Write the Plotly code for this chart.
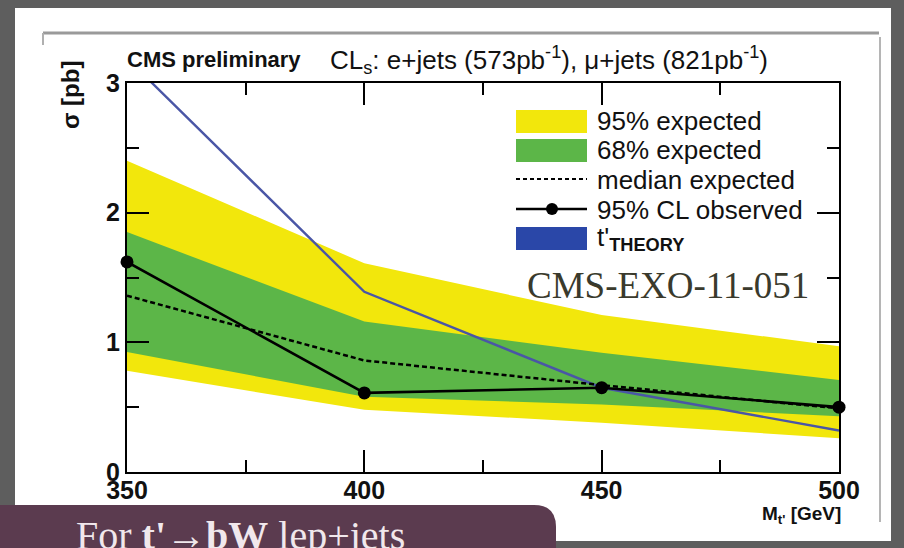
import plotly.graph_objects as go

# ---------------- data ----------------
mass = [350, 400, 450, 500]
yellow_lo = [0.78, 0.48, 0.38, 0.26]
yellow_hi = [2.40, 1.61, 1.21, 0.97]
green_lo = [0.925, 0.58, 0.52, 0.43]
green_hi = [1.85, 1.16, 0.92, 0.71]
median_exp = [1.36, 0.86, 0.67, 0.49]
observed = [1.62, 0.61, 0.65, 0.50]
theory = [3.19, 1.39, 0.65, 0.32]
x_ticks = [350, 400, 450, 500]
y_ticks = [0, 1, 2, 3]
legend_labels = ["95% expected", "68% expected", "median expected",
                 "95% CL observed", "t'<sub><b>THEORY</b></sub>"]

# ---------------- styling ----------------
W, H = 904, 548
L, R, T, B = 127, 839, 83, 472
YEL = "#f2e70c"
GRN = "#5cb648"
BLU_LINE = "#4a56a6"
BLU_BOX = "#2a47a8"
SANS = "Liberation Sans, Arial, sans-serif"
SERIF = "Liberation Serif, Times New Roman, serif"


def px(xp):
    return (xp - L) / (R - L)


def py(yp):
    return (B - yp) / (B - T)


fig = go.Figure()

# 95% band
fig.add_trace(go.Scatter(x=mass + mass[::-1], y=yellow_hi + yellow_lo[::-1],
                         fill="toself", fillcolor=YEL, line=dict(width=0),
                         mode="lines", hoverinfo="skip", showlegend=False))
# 68% band
fig.add_trace(go.Scatter(x=mass + mass[::-1], y=green_hi + green_lo[::-1],
                         fill="toself", fillcolor=GRN, line=dict(width=0),
                         mode="lines", hoverinfo="skip", showlegend=False))
# theory
fig.add_trace(go.Scatter(x=mass, y=theory, mode="lines",
                         line=dict(color=BLU_LINE, width=2.4), showlegend=False))
# median expected
fig.add_trace(go.Scatter(x=mass, y=median_exp, mode="lines",
                         line=dict(color="black", width=2.5, dash="5px,3px"),
                         showlegend=False))
# observed
fig.add_trace(go.Scatter(x=mass, y=observed, mode="lines+markers",
                         line=dict(color="black", width=2.6),
                         marker=dict(color="black", size=13),
                         cliponaxis=False, showlegend=False))

shapes = []
# white slide panel
shapes.append(dict(type="rect", xref="paper", yref="paper", layer="below",
                   x0=px(15), x1=px(891), y0=py(541), y1=py(8),
                   fillcolor="white", line=dict(width=0)))
# grey frame lines of the embedded picture
shapes.append(dict(type="line", xref="paper", yref="paper", layer="below",
                   x0=px(43), x1=px(879), y0=py(33), y1=py(33),
                   line=dict(color="#9a9a9a", width=3)))
shapes.append(dict(type="line", xref="paper", yref="paper", layer="below",
                   x0=px(43), x1=px(43), y0=py(33), y1=py(45),
                   line=dict(color="#b0b0b0", width=2)))
shapes.append(dict(type="line", xref="paper", yref="paper", layer="below",
                   x0=px(880), x1=px(880), y0=py(37), y1=py(522),
                   line=dict(color="#b5b5b5", width=2)))
# bottom maroon box with rounded top-right corner
bx0, bx1, by0, by1, rr = -5, 556, 505, 560, 22
path = (f"M {px(bx0)} {py(by1)} L {px(bx0)} {py(by0)} L {px(bx1 - rr)} {py(by0)} "
        f"Q {px(bx1)} {py(by0)} {px(bx1)} {py(by0 + rr)} L {px(bx1)} {py(by1)} Z")
shapes.append(dict(type="path", xref="paper", yref="paper", layer="above",
                   path=path, fillcolor="#5b3b4f", line=dict(width=0)))

# legend swatches
lx0, lx1 = 516, 587
shapes.append(dict(type="rect", xref="paper", yref="paper", layer="above",
                   x0=px(lx0), x1=px(lx1), y0=py(133), y1=py(110),
                   fillcolor=YEL, line=dict(width=0)))
shapes.append(dict(type="rect", xref="paper", yref="paper", layer="above",
                   x0=px(lx0), x1=px(lx1), y0=py(162), y1=py(139),
                   fillcolor=GRN, line=dict(width=0)))
shapes.append(dict(type="line", xref="paper", yref="paper", layer="above",
                   x0=px(lx0), x1=px(lx1), y0=py(179), y1=py(179),
                   line=dict(color="black", width=2, dash="4px,3px")))
shapes.append(dict(type="line", xref="paper", yref="paper", layer="above",
                   x0=px(lx0), x1=px(lx1), y0=py(209), y1=py(209),
                   line=dict(color="black", width=2.4)))
shapes.append(dict(type="circle", xref="paper", yref="paper", layer="above",
                   x0=px(552 - 6), x1=px(552 + 6), y0=py(209 + 6), y1=py(209 - 6),
                   fillcolor="black", line=dict(width=0)))
shapes.append(dict(type="rect", xref="paper", yref="paper", layer="above",
                   x0=px(lx0), x1=px(lx1), y0=py(250), y1=py(227),
                   fillcolor=BLU_BOX, line=dict(width=0)))

ann = []


def text(s, x, y, size, family=SANS, color="#111111", xanchor="left",
         yanchor="middle", weight="normal", angle=0):
    ann.append(dict(text=s, x=px(x), y=py(y), xref="paper", yref="paper",
                    showarrow=False, xanchor=xanchor, yanchor=yanchor,
                    textangle=angle,
                    font=dict(family=family, size=size, color=color, weight=weight)))


legend_y = [121, 150, 180, 210, 238]
for lab, yy in zip(legend_labels, legend_y):
    text(lab, 595, yy, 26)

text("CMS preliminary", 125, 60, 22, weight="bold")
text("CL<sub>s</sub>: e+jets (573pb<sup>-1</sup>), μ+jets (821pb<sup>-1</sup>)",
     328, 60, 26)
text("σ [pb]", 71, 95, 24, weight="bold", xanchor="center", angle=-90)
text("M<sub>t'</sub> [GeV]", 843, 515, 19, weight="bold", xanchor="right")
text("CMS-EXO-11-051", 525, 285, 37, family=SERIF, color="#3a3a2c")
text("For <b>t'→bW</b> lep+jets", 74, 535, 40, family=SERIF, color="#f1e8ec")

fig.update_layout(
    width=W, height=H, autosize=False,
    margin=dict(l=L, r=W - R, t=T, b=H - B, pad=0),
    paper_bgcolor="#5e5e5e", plot_bgcolor="white",
    shapes=shapes, annotations=ann, showlegend=False,
)
fig.update_xaxes(range=[350, 500], tickmode="array", tickvals=x_ticks,
                 ticks="inside", ticklen=22, tickwidth=2, tickcolor="black",
                 showline=True, linewidth=2, linecolor="black", mirror="ticks",
                 showgrid=False, zeroline=False, ticklabelstandoff=-5,
                 tickfont=dict(family=SANS, size=25, color="#111", weight="bold"),
                 minor=dict(ticks="inside", ticklen=12, tickwidth=2,
                            tickcolor="black", tick0=350, dtick=25, showgrid=False))
fig.update_yaxes(range=[0, 3], tickmode="array", tickvals=y_ticks,
                 ticks="inside", ticklen=22, tickwidth=2, tickcolor="black",
                 showline=True, linewidth=2, linecolor="black", mirror="ticks",
                 showgrid=False, zeroline=False,
                 tickfont=dict(family=SANS, size=25, color="#111", weight="bold"),
                 minor=dict(ticks="inside", ticklen=12, tickwidth=2,
                            tickcolor="black", tick0=0, dtick=0.5, showgrid=False))

fig.write_html("out.html")
